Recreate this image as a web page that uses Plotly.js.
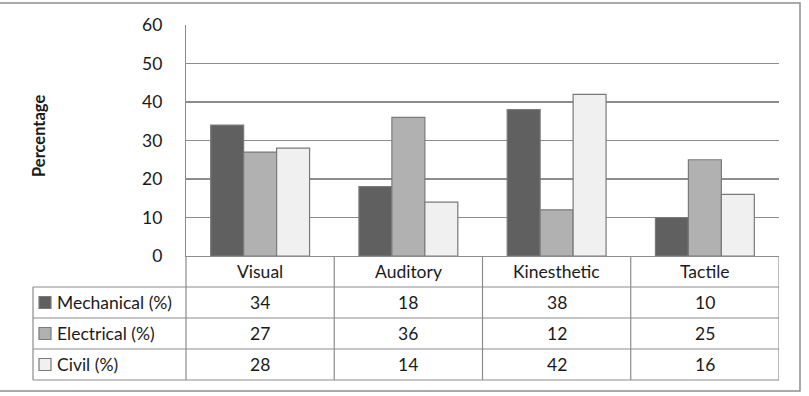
<!DOCTYPE html>
<html>
<head>
<meta charset="utf-8">
<script src="https://cdn.plot.ly/plotly-3.0.1.min.js"></script>
<style>html,body{margin:0;padding:0;background:#fff}</style>
</head>
<body>
<div id="chart" style="width:809px;height:396px"></div>
<script>
// Learning style preference by engineering branch
const categories = ['Visual', 'Auditory', 'Kinesthetic', 'Tactile'];
const seriesNames = ['Mechanical (%)', 'Electrical (%)', 'Civil (%)'];
const mechanical = [34, 18, 38, 10];
const electrical = [27, 36, 12, 25];
const civil = [28, 14, 42, 16];
const yTicks = [0, 10, 20, 30, 40, 50, 60];
const yTitle = 'Percentage';

const seriesValues = [mechanical, electrical, civil];
const seriesColors = ['#606060', '#b1b1b1', '#f0f0f0'];
const edgeColor = '#7a7a7a';
const gridColor = '#8c8c8c';
const textColor = '#1a1a1a';
const FONT = 'Lato, "Open Sans", sans-serif';
const FS = 17.5;

// page geometry (pixels)
const W = 809, H = 396;
const L = 186, R = 779, T = 25, B = 256;
const ROW = 31;
const tableLeft = 33;

const px = x => (x - L) / (R - L);      // pixel -> paper x
const py = y => (B - y) / (B - T);      // pixel -> paper y

const traces = seriesNames.map((name, i) => ({
  type: 'bar',
  name: name,
  x: categories,
  y: seriesValues[i],
  marker: { color: seriesColors[i], line: { color: edgeColor, width: 1.2 } },
  hoverinfo: 'skip'
}));

const shapes = [];
const annotations = [];
const hline = (x0, x1, y, xref) => shapes.push({
  type: 'line', xref: xref || 'paper', yref: 'paper',
  x0: x0, x1: x1, y0: py(y), y1: py(y),
  line: { color: gridColor, width: 1.2 }
});
const vline = (x, y0, y1, xref) => shapes.push({
  type: 'line', xref: xref || 'paper', yref: 'paper',
  x0: x, x1: x, y0: py(y0), y1: py(y1),
  line: { color: gridColor, width: 1.2 }
});

// outer chart frame
shapes.push({
  type: 'rect', xref: 'paper', yref: 'paper',
  x0: px(-2), x1: px(800), y0: py(3), y1: py(391),
  line: { color: '#8e8e8e', width: 1.5 }, fillcolor: 'rgba(0,0,0,0)', layer: 'below'
});

// data table grid
const nRows = seriesNames.length;
const tableBottom = B + ROW * (nRows + 1);
for (let r = 1; r <= nRows + 1; r++) hline(px(tableLeft), 1, B + ROW * r);
vline(px(tableLeft), B + ROW, tableBottom);
vline(0, B, tableBottom);
for (let c = 1; c <= categories.length; c++) vline(c - 0.5, B, tableBottom, 'x');

// category header row
categories.forEach((c, i) => annotations.push({
  x: i, xref: 'x', y: py(B + ROW / 2), yref: 'paper',
  text: c, showarrow: false, xanchor: 'center', yanchor: 'middle',
  font: { family: FONT, size: FS, color: textColor }
}));

// series rows: key square, name, values
seriesNames.forEach((name, s) => {
  const yc = B + ROW * (s + 1) + ROW / 2;
  shapes.push({
    type: 'rect', xref: 'paper', yref: 'paper',
    x0: px(39), x1: px(51), y0: py(yc - 6), y1: py(yc + 6),
    fillcolor: seriesColors[s], line: { color: edgeColor, width: 1.2 }
  });
  annotations.push({
    x: px(55), xref: 'paper', y: py(yc), yref: 'paper',
    text: name, showarrow: false, xanchor: 'left', yanchor: 'middle',
    font: { family: FONT, size: FS, color: textColor }
  });
  seriesValues[s].forEach((v, i) => annotations.push({
    x: i, xref: 'x', y: py(yc), yref: 'paper',
    text: String(v), showarrow: false, xanchor: 'center', yanchor: 'middle',
    font: { family: FONT, size: FS, color: textColor }
  }));
});

// y axis title
annotations.push({
  x: px(39), xref: 'paper', y: py(136), yref: 'paper',
  text: '<b>' + yTitle + '</b>', showarrow: false, textangle: -90,
  xanchor: 'center', yanchor: 'middle',
  font: { family: FONT, size: 16.5, color: textColor }
});

const layout = {
  width: W, height: H,
  margin: { l: L, r: W - R, t: T, b: H - B, pad: 0 },
  paper_bgcolor: '#ffffff', plot_bgcolor: '#ffffff',
  showlegend: false,
  barmode: 'group', bargap: 0.333, bargroupgap: 0,
  xaxis: {
    type: 'category', range: [-0.5, categories.length - 0.5],
    showticklabels: false, showgrid: false, zeroline: false,
    showline: true, linecolor: gridColor, linewidth: 1.2, ticks: ''
  },
  yaxis: {
    range: [0, 60], tickvals: yTicks, ticktext: yTicks.map(String),
    showgrid: true, gridcolor: gridColor, gridwidth: 1.2,
    zeroline: false, showline: true, linecolor: gridColor, linewidth: 1.2,
    ticks: '', ticklabelstandoff: 19,
    tickfont: { family: FONT, size: FS, color: textColor }
  },
  shapes: shapes,
  annotations: annotations
};

Plotly.newPlot('chart', traces, layout, { staticPlot: true, displayModeBar: false });
</script>
</body>
</html>
